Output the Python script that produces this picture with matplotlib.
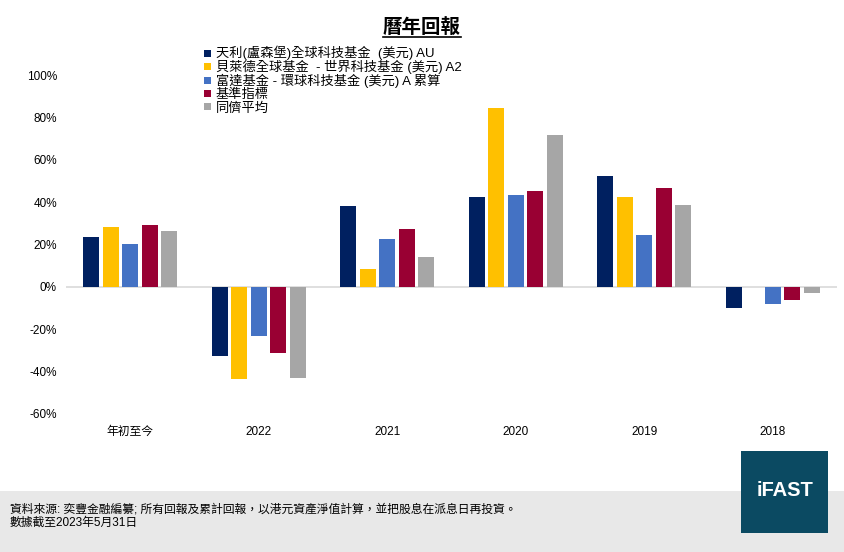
import matplotlib.pyplot as plt
import numpy as np
from matplotlib.patches import Rectangle
from matplotlib.lines import Line2D

plt.rcParams["font.family"] = ["Liberation Sans", "Noto Sans CJK TC"]

categories = ["年初至今", "2022", "2021", "2020", "2019", "2018"]
series_names = [
    "天利(盧森堡)全球科技基金  (美元) AU",
    "貝萊德全球基金  - 世界科技基金 (美元) A2",
    "富達基金 - 環球科技基金 (美元) A 累算",
    "基準指標",
    "同儕平均",
]
fund_au = [23.6, -32.4, 38.2, 42.5, 52.4, -9.8]
fund_a2 = [28.3, -43.3, 8.5, 84.5, 42.5, np.nan]
fund_fid = [20.3, -23.4, 22.7, 43.4, 24.5, -8.3]
benchmark = [29.3, -31.0, 27.4, 45.3, 46.7, -6.0]
peer_avg = [26.4, -42.8, 14.2, 71.7, 38.7, -2.7]
yticks = [-60, -40, -20, 0, 20, 40, 60, 80, 100]

colors = ["#002060", "#ffc000", "#4472c4", "#990033", "#a6a6a6"]
values = [fund_au, fund_a2, fund_fid, benchmark, peer_avg]

W, H = 845, 552
fig = plt.figure(figsize=(W / 100, H / 100), dpi=100)
ax = fig.add_axes([66 / W, 1 - 414 / H, 771 / W, 339 / H])

x = np.arange(len(categories))
pitch = 0.152
width = 0.122
for i, (vals, col) in enumerate(zip(values, colors)):
    ax.bar(x + (i - 2) * pitch, vals, width=width, color=col, zorder=2)

ax.axhline(0, color="#d9d9d9", lw=1.2, zorder=1)
ax.set_xlim(-0.5, len(categories) - 0.5)
ax.set_ylim(-60, 100)
ax.set_yticks(yticks)
ax.set_yticklabels([f"{t}%" for t in yticks], fontsize=8.5)
ax.set_xticks(x)
ax.set_xticklabels(categories, fontsize=8.5)
ax.tick_params(length=0)
ax.tick_params(axis="y", pad=6.5)
ax.tick_params(axis="x", pad=8.5)
for s in ax.spines.values():
    s.set_visible(False)

# title with underline
title = fig.text(422 / W, 1 - 27 / H, "曆年回報", ha="center", va="center",
                 fontsize=14, fontweight="bold")
fig.canvas.draw()
bb = title.get_window_extent().transformed(fig.transFigure.inverted())
fig.add_artist(Line2D([bb.x0, bb.x1], [1 - 36.5 / H, 1 - 36.5 / H],
                      transform=fig.transFigure, color="black", lw=1.2))

# legend drawn by hand to keep tight row spacing
row_y = [53, 66.5, 80, 93.5, 107]
for name, col, yy in zip(series_names, colors, row_y):
    fig.add_artist(Rectangle((204 / W, 1 - (yy + 3.5) / H), 7 / W, 7 / H,
                             transform=fig.transFigure, facecolor=col,
                             edgecolor="none"))
    fig.text(216 / W, 1 - (yy + 4.5) / H, name, fontsize=9.5, ha="left",
             va="baseline")

# footer
fig.add_artist(Rectangle((0, 0), 1, 1 - 491 / H, transform=fig.transFigure,
                         facecolor="#e8e8e8", edgecolor="none", zorder=0))
fig.add_artist(Rectangle((741 / W, 1 - 533 / H), 87 / W, 82 / H,
                         transform=fig.transFigure, facecolor="#0b4a62",
                         edgecolor="none", zorder=1))
fig.text(785 / W, 1 - 490 / H, "iFAST", color="white", fontsize=14.5,
         fontweight="bold", ha="center", va="center")
fig.text(10 / W, 1 - 512 / H,
         "資料來源: 奕豐金融編纂; 所有回報及累計回報，以港元資產淨值計算，並把股息在派息日再投資。",
         fontsize=8.5, ha="left", va="baseline")
fig.text(10 / W, 1 - 526 / H, "數據截至2023年5月31日",
         fontsize=8.5, ha="left", va="baseline")

fig.savefig("out.png", dpi=100)
